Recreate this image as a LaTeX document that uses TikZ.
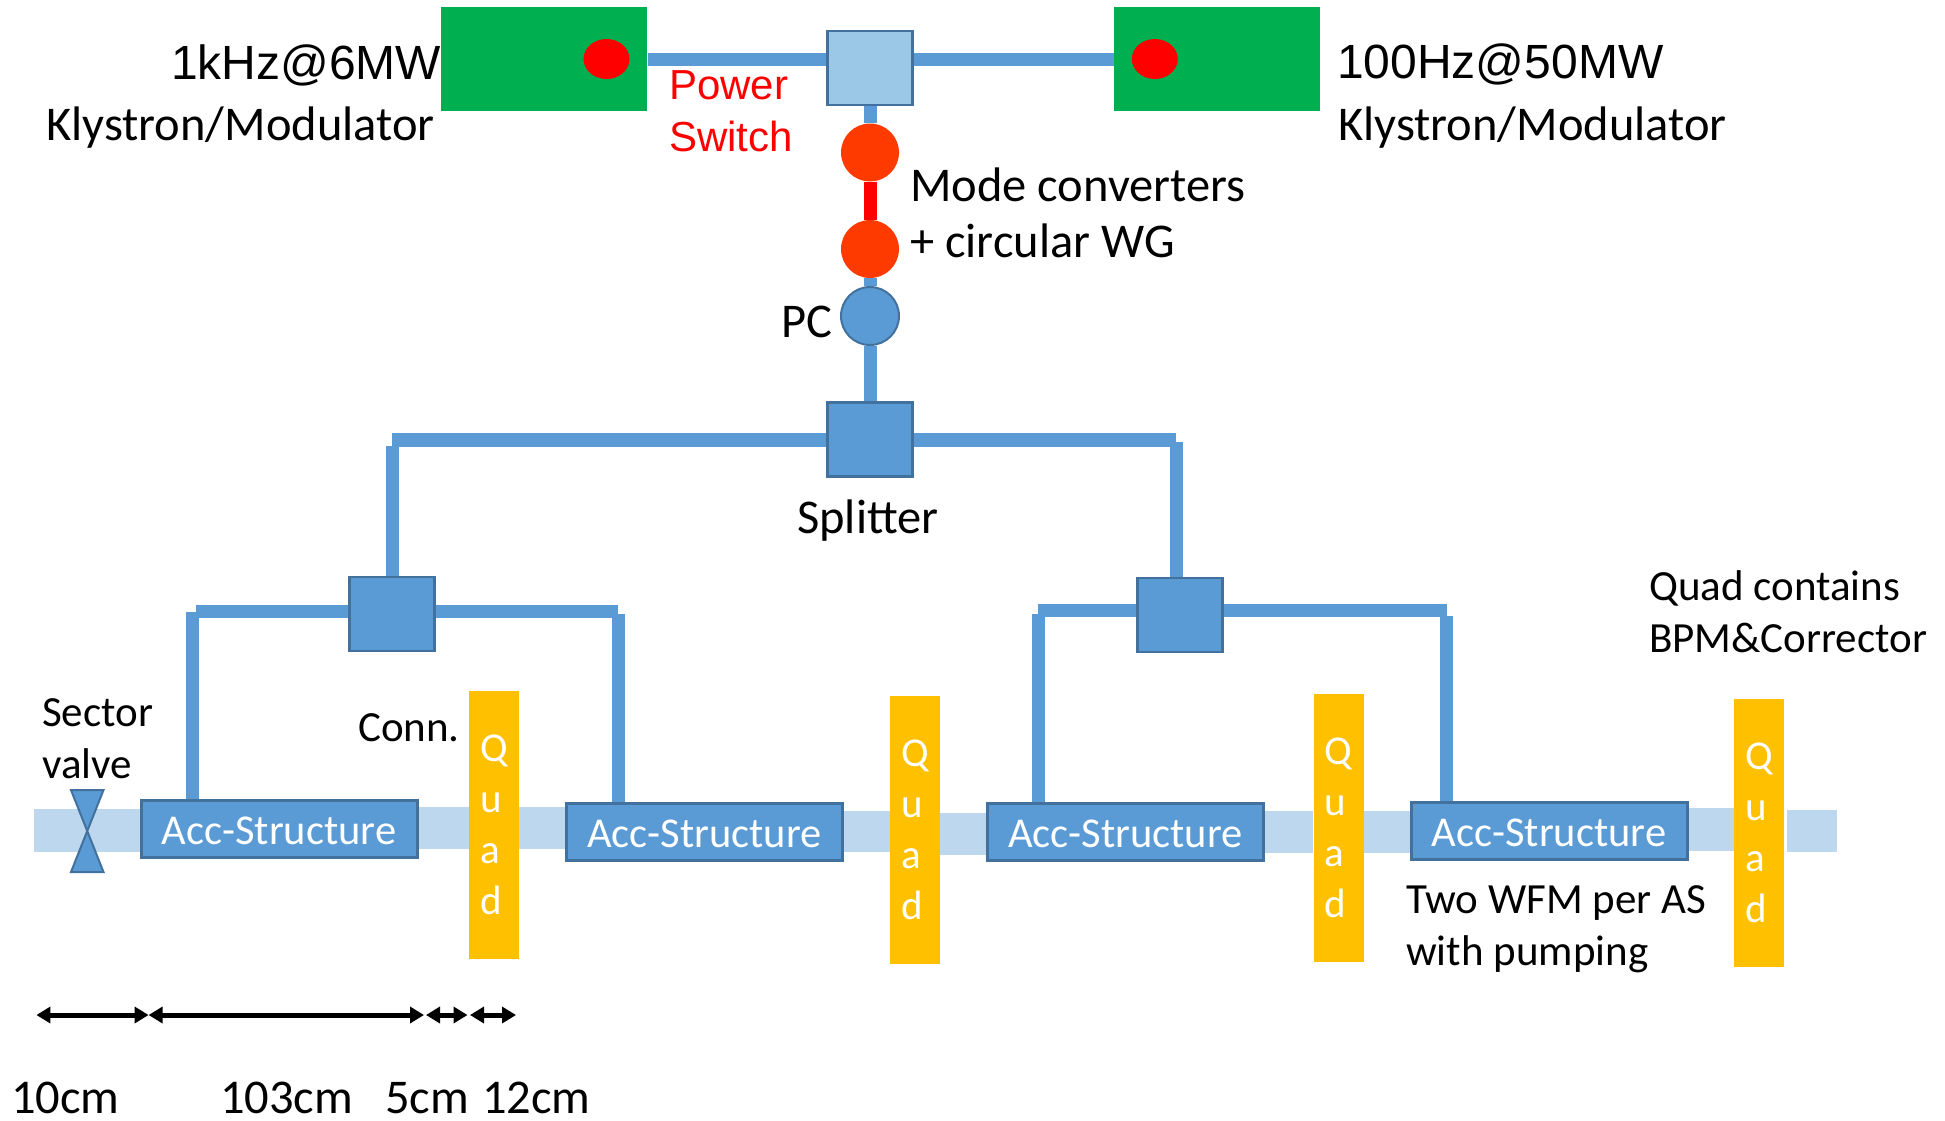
\documentclass[tikz,border=0pt]{standalone}
\usepackage{fontspec}
\setmainfont{Carlito}
\newfontfamily\arialfont{Liberation Sans}
\usepackage{tikz}
\usetikzlibrary{positioning}
\usetikzlibrary{shapes.geometric,arrows.meta}
\definecolor{wgblue}{HTML}{5B9BD5}
\definecolor{edgeblue}{HTML}{41719C}
\definecolor{lightblue}{HTML}{9CC8E8}
\definecolor{beamblue}{HTML}{BDD7EE}
\definecolor{klygreen}{HTML}{00B050}
\definecolor{convred}{HTML}{FF3A00}
\definecolor{quadyellow}{HTML}{FFC000}

\begin{document}
\begin{tikzpicture}[x=1pt, y=-1pt,
        kly/.style = {fill=klygreen, minimum width=206pt, minimum height=104pt, inner sep=0pt},
        dot/.style = {ellipse, fill=red, minimum width=46pt, minimum height=40pt, inner sep=0pt},
        box/.style = {draw=edgeblue, line width=2.5pt, fill=wgblue, minimum width=85pt, minimum height=74pt, inner sep=0pt},
        conv/.style = {circle, fill=convred, minimum size=58pt, inner sep=0pt},
        acc/.style = {draw=edgeblue, line width=3pt, fill=wgblue, text=white, minimum width=276pt, minimum height=57pt, inner sep=0pt, text height=30pt, text depth=0pt, font=\fontsize{42.5}{50}\selectfont},
        quad/.style = {fill=quadyellow, text=white, minimum width=50pt, minimum height=268pt, inner sep=0pt, align=left, font=\fontsize{41}{51}\selectfont},
        wg/.style = {wgblue, line width=13pt},
        beam/.style = {fill=beamblue},
        dim/.style = {{Triangle[length=14pt,width=16pt]}-{Triangle[length=14pt,width=16pt]}, line width=5pt},
        big/.style = {anchor=base west, inner sep=0pt, font=\fontsize{48.5}{50}\selectfont},
        mid/.style = {anchor=base west, inner sep=0pt, font=\fontsize{43}{50}\selectfont},
        top/.style = {anchor=base west, inner sep=0pt, font=\arialfont\fontsize{48}{50}\selectfont},
        red label/.style = {anchor=base west, inner sep=0pt, text=red, font=\arialfont\fontsize{42}{50}\selectfont}]
    \useasboundingbox (0,0) rectangle (1945,1120);
    % Beam pipe
    \fill[beam] (34,809) rectangle (140,852);
    \fill[beam] (418,807) rectangle (469,849);
    \fill[beam] (517,807) rectangle (568,849);
    \fill[beam] (841,811) rectangle (892,852);
    \fill[beam] (938,813) rectangle (989,855);
    \fill[beam] (1262,811) rectangle (1313,853);
    \fill[beam] (1361,811) rectangle (1412,853);
    \fill[beam] (1683,808) rectangle (1734,851);
    \fill[beam] (1787,810) rectangle (1837,852);
    % Nodes
    \node[kly] (klyL) at (544.3,59) {};
    \node[kly] (klyR) at (1216.7,59) {};
    \node[dot] (dotL) at (606.5,59) {};
    \node[dot] (dotR) at (1154.8,59) {};
    \node[box, fill=lightblue] (switch) at (870.2,68) {};
    \node[conv] (convA) at (870,152.5) {};
    \node[conv] (convB) at (870,249) {};
    \node[circle, draw=edgeblue, line width=2pt, fill=wgblue, minimum size=58pt, inner sep=0pt] (pc) at (870,316) {};
    \node[box] (split) at (870.2,439.5) {};
    \node[box] (splitL) at (392.2,614) {};
    \node[box] (splitR) at (1180,615) {};
    \node[acc] (acc1) at (279,829) {Acc-Structure};
    \node[acc] (acc2) at (704.4,832) {Acc-Structure};
    \node[acc] (acc3) at (1125.5,832) {Acc-Structure};
    \node[acc] (acc4) at (1549,831) {Acc-Structure};
    \node[quad] (quad1) at (494,825) {Q\\u\\a\\d};
    \node[quad] (quad2) at (915,830) {Q\\u\\a\\d};
    \node[quad] (quad3) at (1338.5,828) {Q\\u\\a\\d};
    \node[quad] (quad4) at (1759,832.5) {Q\\u\\a\\d};
    % Free ends
    \coordinate (tapL) at (392.2,446);
    \coordinate (tapR) at (1176,442);
    \coordinate (feedA) at (192.6,612);
    \coordinate (feedB) at (618.6,614);
    \coordinate (feedC) at (1038.8,614);
    \coordinate (feedD) at (1446.6,616);
    \coordinate (armA) at (195.8,611.5);
    \coordinate (armB) at (618,611.5);
    \coordinate (armC) at (1038,610);
    \coordinate (armD) at (1447,610);
    \coordinate (dimA) at (36.4,1015);
    \coordinate (dimB) at (148.6,1015);
    \coordinate (dimC) at (424,1015);
    \coordinate (dimD) at (426,1015);
    \coordinate (dimE) at (467.5,1015);
    \coordinate (dimF) at (470,1015);
    \coordinate (dimG) at (516,1015);
    % Edges
    \draw[wg] (klyL.east |- dotL) -- (switch.west |- dotL);
    \draw[wg] (switch.east |- dotR) -- (klyR.west |- dotR);
    \draw[wg] (switch.south -| convA) -- (convA);
    \draw[wg, red] (convA.south) -- (convB.north);
    \draw[wg] (convB.south) -- (pc.north);
    \draw[wg] (pc.south) -- (pc.south |- split.north);
    \draw[wg, line width=14pt] (split.west) -- (split.west -| tapL);
    \draw[wg, line width=14pt] (split.east) -- (split.east -| tapR);
    \draw[wg] (tapL) -- (splitL.north);
    \draw[wg] (tapR) -- (tapR |- splitR.north);
    \draw[wg] (armA) -- (armA -| splitL.west);
    \draw[wg] (splitL.east |- armB) -- (armB);
    \draw[wg] (armC) -- (armC -| splitR.west);
    \draw[wg] (splitR.east |- armD) -- (armD);
    \draw[wg] (feedA) -- (feedA |- acc1.north);
    \draw[wg] (feedB) -- (feedB |- acc2.north);
    \draw[wg] (feedC) -- (feedC |- acc3.north);
    \draw[wg] (feedD) -- (feedD |- acc4.north);
    % Sector valve
    \draw[draw=edgeblue, line width=2pt, fill=wgblue] (71,790) -- (103.5,790) -- (71,872) -- (103.5,872) -- cycle;
    % Dimensions
    \draw[dim] (dimA) -- (dimB);
    \draw[dim] (dimB) -- (dimC);
    \draw[dim] (dimD) -- (dimE);
    \draw[dim] (dimF) -- (dimG);
    % Labels
    \node[top] (rateL) at (171,79) {1kHz@6MW};
    \node[big] (nameL) at (46,140) {Klystron/Modulator};
    \node[top] (rateR) at (1337,78) {100Hz@50MW};
    \node[big] (nameR) at (1338,140) {Klystron/Modulator};
    \node[red label] (power) at (669,99) {Power};
    \node[red label] (swlabel) at (669,151) {Switch};
    \node[big] (mode) at (910,201) {Mode converters};
    \node[big] (circ) at (910,257.5) {+ circular WG};
    \node[big] (pclabel) at (781,337.5) {PC};
    \node[big] (splabel) at (797,533.5) {Splitter};
    \node[mid] (sector) at (42,726.5) {Sector};
    \node[mid] (valve) at (42,778.5) {valve};
    \node[mid] (conn) at (358,741.5) {Conn.};
    \node[mid] (wfm) at (1406,913) {Two WFM per AS};
    \node[mid] (pump) at (1406,965) {with pumping};
    \node[mid] (qcont) at (1649,600) {Quad contains};
    \node[mid] (bpm) at (1649,652.5) {BPM\&Corrector};
    \node[big] (cmA) at (11,1113) {10cm};
    \node[big] (cmB) at (220,1113) {103cm};
    \node[big] (cmC) at (385,1113) {5cm};
    \node[big] (cmD) at (482,1113) {12cm};
\end{tikzpicture}
\end{document}
